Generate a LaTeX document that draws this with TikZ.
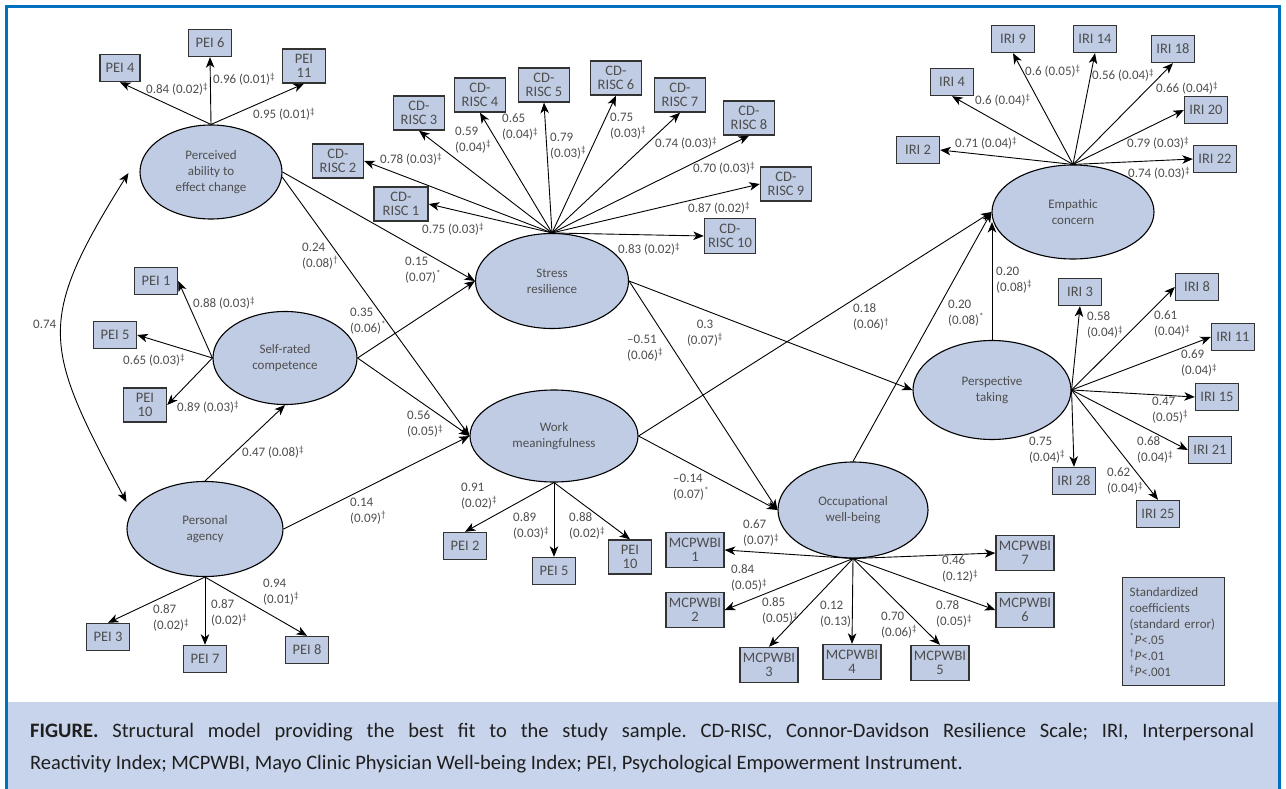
\documentclass[tikz,border=0pt]{standalone}
\usepackage{fontspec}
\setmainfont{Carlito}
\usetikzlibrary{arrows.meta,shapes.geometric}
\definecolor{frameblue}{RGB}{0,112,192}
\definecolor{nodefill}{RGB}{192,204,228}
\definecolor{capfill}{RGB}{200,212,235}
\definecolor{txtgray}{RGB}{78,78,78}
\newcommand\lblfont{\fontsize{13}{16}\selectfont}
\newcommand\ellfont{\fontsize{13}{16}\selectfont}
\newcommand\boxfont{\fontsize{14.5}{14.5}\selectfont}
\newcommand\capfont{\fontsize{20.5}{24}\selectfont\frenchspacing}
\newcommand\mydd{\textsuperscript{‡}}
\newcommand\mydg{\textsuperscript{†}}
\newcommand\myst{\textsuperscript{*}}
\begin{document}
\begin{tikzpicture}[x=1pt,y=1pt,
  >={Stealth[length=10.5pt,width=8.5pt,inset=3pt]},
  ell/.style={ellipse, draw=black, line width=1.1pt, fill=nodefill, inner sep=0, align=center, font=\ellfont, text=txtgray},
  box/.style={rectangle, draw=black!80, line width=1.4pt, fill=nodefill, inner sep=0, align=center, font=\boxfont, text=txtgray, minimum width=43, minimum height=27},
  box2/.style={box, minimum height=34},
  cdbox/.style={box, minimum width=51, minimum height=34},
  mcbox/.style={box, minimum width=58, minimum height=35},
  lbl/.style={inner sep=0, font=\lblfont, text=txtgray, align=left, anchor=west},
  arr/.style={->, line width=0.9pt, draw=black}]
\useasboundingbox (0,0) rectangle (1286,-789);
\fill[white] (0,0) rectangle (1286,-789);
\fill[capfill] (8,-702) rectangle (1279,-789);
\draw[frameblue, line width=3.5pt] (6.5,-789) -- (6.5,-6.5) -- (1279.5,-6.5) -- (1279.5,-789);

% latent variables
\node[ell, minimum width=142, minimum height=94] (pa) at (211,-172) {Perceived\\ability to\\effect change};
\node[ell, minimum width=144, minimum height=93] (sc) at (285,-358) {Self-rated\\competence};
\node[ell, minimum width=156, minimum height=95] (ag) at (205,-529) {Personal\\agency};
\node[ell, minimum width=153, minimum height=95] (sr) at (552,-281) {Stress\\resilience};
\node[ell, minimum width=168, minimum height=92] (wm) at (554,-436) {Work\\meaningfulness};
\node[ell, minimum width=150, minimum height=96] (ow) at (853,-510) {Occupational\\well-being};
\node[ell, minimum width=162, minimum height=94] (ec) at (1073,-212) {Empathic\\concern};
\node[ell, minimum width=158, minimum height=99] (pt) at (992,-390) {Perspective\\taking};

% indicators
\node[box, minimum width=40] (p4) at (120,-68) {PEI 4};
\node[box] (p6) at (210,-43) {PEI 6};
\node[box2] (p11) at (304,-66) {PEI\\11};
\node[cdbox, minimum width=54] (cd1) at (401,-204) {CD-\\RISC 1};
\node[cdbox] (cd2) at (338,-161) {CD-\\RISC 2};
\node[cdbox] (cd3) at (419,-113) {CD-\\RISC 3};
\node[cdbox] (cd4) at (480,-95) {CD-\\RISC 4};
\node[cdbox] (cd5) at (544,-85) {CD-\\RISC 5};
\node[cdbox] (cd6) at (616,-78) {CD-\\RISC 6};
\node[cdbox] (cd7) at (680,-95) {CD-\\RISC 7};
\node[cdbox] (cd8) at (749,-118) {CD-\\RISC 8};
\node[cdbox] (cd9) at (786,-184) {CD-\\RISC 9};
\node[cdbox, minimum height=35] (cd10) at (730,-236) {CD-\\RISC 10};
\node[box] (p1) at (156,-281) {PEI 1};
\node[box] (p5) at (115,-335) {PEI 5};
\node[box2] (p10) at (145,-405) {PEI\\10};
\node[box] (p3) at (108,-637) {PEI 3};
\node[box] (p7) at (205,-659) {PEI 7};
\node[box] (p8) at (307,-650) {PEI 8};
\node[box] (p2w) at (465,-546) {PEI 2};
\node[box] (p5w) at (554,-571) {PEI 5};
\node[box2] (p10w) at (630,-557) {PEI\\10};
\node[mcbox] (mc1) at (695,-550) {MCPWBI\\1};
\node[mcbox] (mc2) at (695,-610) {MCPWBI\\2};
\node[mcbox] (mc3) at (769,-665) {MCPWBI\\3};
\node[mcbox] (mc4) at (852,-662) {MCPWBI\\4};
\node[mcbox] (mc5) at (940,-663) {MCPWBI\\5};
\node[mcbox] (mc6) at (1025,-610) {MCPWBI\\6};
\node[mcbox] (mc7) at (1025,-553) {MCPWBI\\7};
\node[box] (i4) at (952,-82) {IRI 4};
\node[box] (i9) at (1013,-39) {IRI 9};
\node[box] (i14) at (1095,-39) {IRI 14};
\node[box] (i18) at (1173,-49) {IRI 18};
\node[box] (i20) at (1206,-110) {IRI 20};
\node[box] (i22) at (1215,-159) {IRI 22};
\node[box] (i2) at (918,-150) {IRI 2};
\node[box] (i3) at (1080,-292) {IRI 3};
\node[box] (i8) at (1197,-287) {IRI 8};
\node[box] (i11) at (1233,-337) {IRI 11};
\node[box] (i15) at (1217,-397) {IRI 15};
\node[box] (i21) at (1210,-450) {IRI 21};
\node[box] (i28) at (1074,-481) {IRI 28};
\node[box] (i25) at (1158,-514) {IRI 25};

% legend
\node[box, align=left, text width=88, inner xsep=7, inner ysep=4, minimum height=108, font=\lblfont, anchor=north west] (leg) at (1122,-577)
 {Standardized\\coefficients\\(standard error)\\\myst\textit{P}<.05\\\mydg\textit{P}<.01\\\mydd\textit{P}<.001};

% measurement arrows
\foreach \t in {p4,p6,p11} \draw[arr] (pa.north) -- (\t.south);
\foreach \t in {cd3,cd4,cd5,cd6,cd7,cd8} \draw[arr] (sr.north) -- (\t.south);
\foreach \t in {cd1,cd2} \draw[arr] (sr.north) -- (\t.east);
\foreach \t in {cd9,cd10} \draw[arr] (sr.north) -- (\t.west);
\foreach \t in {p1,p5,p10} \draw[arr] (sc.west) -- (\t.east);
\foreach \t in {p3,p7,p8} \draw[arr] (ag.south) -- (\t.north);
\foreach \t in {p2w,p5w,p10w} \draw[arr] (wm.south) -- (\t.north);
\foreach \t in {mc1,mc2} \draw[arr] (ow.south) -- (\t.east);
\foreach \t in {mc3,mc4,mc5} \draw[arr] (ow.south) -- (\t.north);
\foreach \t in {mc6,mc7} \draw[arr] (ow.south) -- (\t.west);
\foreach \t in {i4,i9,i14,i18} \draw[arr] (ec.north) -- (\t.south);
\foreach \t in {i20,i22} \draw[arr] (ec.north) -- (\t.west);
\draw[arr] (ec.north) -- (i2.east);
\draw[arr] (pt.east) -- (i3.south);
\foreach \t in {i8,i11,i15,i21} \draw[arr] (pt.east) -- (\t.west);
\foreach \t in {i28,i25} \draw[arr] (pt.east) -- (\t.north);

% structural arrows
\draw[arr] (pa.east) -- (sr.west);
\draw[arr] (pa.-4) -- (wm.west);
\draw[arr] (sc.east) -- (sr.west);
\draw[arr] (sc.east) -- (wm.west);
\draw[arr] (ag.north) -- (sc.south);
\draw[arr] (ag.east) -- (wm.west);
\draw[arr] (sr.east) -- (pt.west);
\draw[arr] (sr.east) -- (ow.west);
\draw[arr] (wm.east) -- (ow.west);
\draw[arr] (wm.east) -- (ec.west);
\draw[arr] (ow.north) -- (ec.west);
\coordinate (ecin) at (992,-222);
\draw[arr] (pt.north) -- (ecin);
\draw[arr,<->] ([xshift=-11pt,yshift=-1pt]pa.west) to[out=238,in=118,looseness=1.37] ([yshift=27pt]ag.west);

% labels
\node[lbl] (t1) at (146,-89) {0.84 (0.02)\mydd};
\node[lbl] (t2) at (213,-79) {0.96 (0.01)\mydd};
\node[lbl] (t3) at (253,-114) {0.95 (0.01)\mydd};
\node[lbl] (t4) at (380,-159) {0.78 (0.03)\mydd};
\node[lbl] (t5) at (455,-140) {0.59\\(0.04)\mydd};
\node[lbl] (t6) at (502,-127) {0.65\\(0.04)\mydd};
\node[lbl] (t7) at (550,-146) {0.79\\(0.03)\mydd};
\node[lbl] (t8) at (610,-126) {0.75\\(0.03)\mydd};
\node[lbl] (t9) at (655,-143) {0.74 (0.03)\mydd};
\node[lbl] (t10) at (693,-168) {0.70 (0.03)\mydd};
\node[lbl] (t11) at (688,-208) {0.87 (0.02)\mydd};
\node[lbl] (t12) at (618,-249) {0.83 (0.02)\mydd};
\node[lbl] (t13) at (422,-229) {0.75 (0.03)\mydd};
\node[lbl] (t14) at (302,-256) {0.24\\(0.08)\mydg};
\node[lbl] (t15) at (405,-270) {0.15\\(0.07)\myst};
\node[lbl] (t16) at (350,-321) {0.35\\(0.06)\myst};
\node[lbl] (t17) at (407,-424) {0.56\\(0.05)\mydd};
\node[lbl] (t18) at (242,-452) {0.47 (0.08)\mydd};
\node[lbl] (t19) at (350,-511) {0.14\\(0.09)\mydg};
\node[lbl] (t20) at (33,-324) {0.74};
\node[lbl] (t21) at (193,-303) {0.88 (0.03)\mydd};
\node[lbl] (t22) at (123,-360) {0.65 (0.03)\mydd};
\node[lbl] (t23) at (177,-407) {0.89 (0.03)\mydd};
\node[lbl] (t24) at (153,-618) {0.87\\(0.02)\mydd};
\node[lbl] (t25) at (211,-613) {0.87\\(0.02)\mydd};
\node[lbl] (t26) at (263,-592) {0.94\\(0.01)\mydd};
\node[lbl] (t27) at (461,-496) {0.91\\(0.02)\mydd};
\node[lbl] (t28) at (513,-526) {0.89\\(0.03)\mydd};
\node[lbl] (t29) at (569,-526) {0.88\\(0.02)\mydd};
\node[lbl] (t30) at (673,-487) {–0.14\\(0.07)\myst};
\node[lbl] (t31) at (627,-348) {–0.51\\(0.06)\mydd};
\node[lbl, align=center, anchor=center] (t32) at (705,-333) {0.3\\(0.07)\mydd};
\node[lbl] (t33) at (743,-533) {0.67\\(0.07)\mydd};
\node[lbl] (t34) at (731,-578) {0.84\\(0.05)\mydd};
\node[lbl] (t35) at (762,-611) {0.85\\(0.05)\mydd};
\node[lbl] (t36) at (820,-614) {0.12\\(0.13)};
\node[lbl] (t37) at (881,-625) {0.70\\(0.06)\mydd};
\node[lbl] (t38) at (936,-614) {0.78\\(0.05)\mydd};
\node[lbl] (t39) at (942,-569) {0.46\\(0.12)\mydd};
\node[lbl] (t40) at (853,-317) {0.18\\(0.06)\mydg};
\node[lbl] (t41) at (948,-313) {0.20\\(0.08)\myst};
\node[lbl] (t42) at (996,-280) {0.20\\(0.08)\mydd};
\node[lbl] (t43) at (975,-100) {0.6 (0.04)\mydd};
\node[lbl] (t44) at (1025,-71) {0.6 (0.05)\mydd};
\node[lbl] (t45) at (1092,-75) {0.56 (0.04)\mydd};
\node[lbl] (t46) at (1156,-88) {0.66 (0.04)\mydd};
\node[lbl] (t47) at (1127,-143) {0.79 (0.03)\mydd};
\node[lbl] (t48) at (1128,-173) {0.74 (0.03)\mydd};
\node[lbl] (t49) at (955,-143) {0.71 (0.04)\mydd};
\node[lbl] (t50) at (1087,-325) {0.58\\(0.04)\mydd};
\node[lbl] (t51) at (1154,-324) {0.61\\(0.04)\mydd};
\node[lbl] (t52) at (1181,-363) {0.69\\(0.04)\mydd};
\node[lbl] (t53) at (1152,-410) {0.47\\(0.05)\mydd};
\node[lbl] (t54) at (1137,-450) {0.68\\(0.04)\mydd};
\node[lbl] (t55) at (1029,-450) {0.75\\(0.04)\mydd};
\node[lbl] (t56) at (1107,-481) {0.62\\(0.04)\mydd};

% caption
\node[anchor=base west, inner sep=0, font=\capfont, text=black!88] (cap1) at (30,-737)
 {\makebox[1224pt][s]{\textbf{FIGURE.} Structural model providing the best fit to the study sample. CD-RISC, Connor-Davidson Resilience Scale; IRI, Interpersonal}};
\node[anchor=base west, inner sep=0, font=\capfont, text=black!88] (cap2) at (30,-769)
 {Reactivity Index; MCPWBI, Mayo Clinic Physician Well-being Index; PEI, Psychological Empowerment Instrument.};
\end{tikzpicture}
\end{document}
